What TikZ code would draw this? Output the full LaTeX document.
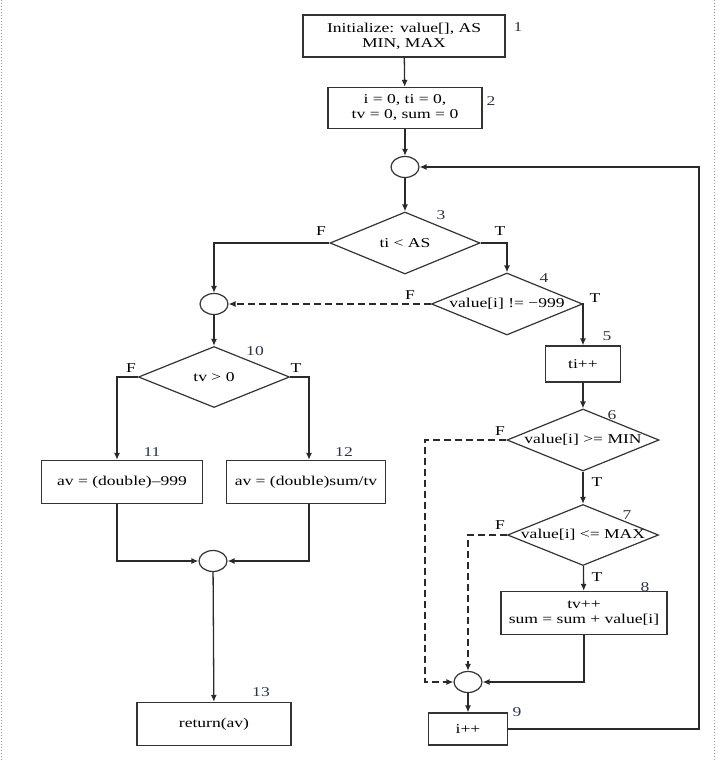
\documentclass[tikz,border=0pt]{standalone}
\usepackage{fontspec}
\setmainfont{Liberation Serif}[FakeStretch=1.3]
\usepackage{tikz}
\usetikzlibrary{arrows.meta,shapes.geometric}
\definecolor{inkline}{HTML}{2A2A2A}
\definecolor{boxline}{HTML}{333333}
\definecolor{stepnum}{HTML}{2B3448}
\definecolor{pageedge}{HTML}{9A9A9A}

\begin{document}
\begin{tikzpicture}[x=1pt, y=-1pt,
  font=\fontsize{13.5}{15}\selectfont,
  pbox/.style={rectangle, draw=boxline, line width=1.2pt, inner sep=0pt, align=center},
  dbox/.style={diamond, draw=boxline, line width=1.2pt, inner sep=0pt},
  jnode/.style={ellipse, draw=boxline, line width=1.2pt, minimum width=28pt, minimum height=21pt, inner sep=0pt},
  flow/.style={draw=inkline, line width=1.3pt, -{Latex[length=7pt,width=6pt]}},
  dflow/.style={flow, dash pattern=on 7pt off 4pt},
  num/.style={font=\fontsize{13.5}{15}\selectfont\color{stepnum}},
  tf/.style={font=\fontsize{13.5}{15}\selectfont},
]
\useasboundingbox (0,0) rectangle (718,760);
\draw[pageedge, dotted, line width=1pt] (1.5,0) -- (1.5,760);
\draw[pageedge, dotted, line width=1pt] (714,0) -- (714,760);

% start
\node[pbox, minimum width=202pt, minimum height=42pt] (init) at (404,36) {Initialize: value[], AS\\MIN, MAX};
\node[num] (n1) at (518,27) {1};
\node[pbox, minimum width=154pt, minimum height=41pt] (reset) at (405,108) {i = 0, ti = 0,\\tv = 0, sum = 0};
\node[num] (n2) at (491,101) {2};
\node[jnode] (j1) at (405,167) {};

% loop test
\node[dbox, minimum width=150pt, minimum height=62pt, label=center:{ti < AS}] (d3) at (405,243) {};
\node[num] (n3) at (441,215) {3};
\node[tf] (f3) at (321,231) {F};
\node[tf] (t3) at (500,231) {T};
\node[dbox, minimum width=151pt, minimum height=62pt, label=center:{value[i] != −999}] (d4) at (507,304) {};
\node[num] (n4) at (544,278) {4};
\node[tf] (f4) at (410,295) {F};
\node[tf] (t4) at (595,298) {T};
\node[jnode] (j2) at (214,304) {};

% average
\node[dbox, minimum width=151pt, minimum height=61pt, label=center:{tv > 0}] (d10) at (214,377) {};
\node[num] (n10) at (255,351) {10};
\node[tf] (f10) at (131,368) {F};
\node[tf] (t10) at (296,368) {T};
\node[pbox, minimum width=161pt, minimum height=43pt] (b11) at (122,482) {av = (double)–999};
\node[num] (n11) at (152,452) {11};
\node[pbox, minimum width=159pt, minimum height=43pt] (b12) at (306,482) {av = (double)sum/tv};
\node[num] (n12) at (344,452) {12};
\node[jnode] (j4) at (213,561) {};
\node[pbox, minimum width=154pt, minimum height=43pt] (b13) at (214,724) {return(av)};
\node[num] (n13) at (261,692) {13};

% loop body
\node[pbox, minimum width=75pt, minimum height=36pt] (b5) at (583,364) {ti++};
\node[num] (n5) at (607,336) {5};
\node[dbox, minimum width=152pt, minimum height=62pt, label=center:{value[i] >= MIN}] (d6) at (583,440) {};
\node[num] (n6) at (612,415) {6};
\node[tf] (f6) at (500,431) {F};
\node[tf] (t6) at (597,482) {T};
\node[dbox, minimum width=151pt, minimum height=61pt, label=center:{value[i] <= MAX}] (d7) at (583,535) {};
\node[num] (n7) at (627,515) {7};
\node[tf] (f7) at (500,525) {F};
\node[tf] (t7) at (597,577) {T};
\node[pbox, minimum width=166pt, minimum height=43pt] (b8) at (584,613) {tv++\\sum = sum + value[i]};
\node[num] (n8) at (645,587) {8};
\node[jnode] (j3) at (468,682) {};
\node[pbox, minimum width=79pt, minimum height=32pt] (b9) at (468,729) {i++};
\node[num] (n9) at (517,712) {9};
\coordinate (lane6) at (425,682);
\coordinate (back) at (699,450);

% connectors
\draw[flow] (init) -- (reset);
\draw[flow] (reset) -- (j1);
\draw[flow] (j1) -- (d3);
\draw[flow] (d3.west) -| (j2);
\draw[flow] (d3.east) -| (d4);
\draw[dflow] (d4.west) -- (j2);
\draw[flow] (d4.east) -| (b5);
\draw[flow] (j2) -- (d10);
\draw[flow] (d10.west) -| ([xshift=-5pt]b11.north);
\draw[flow] (d10.east) -| ([xshift=3pt]b12.north);
\draw[flow] ([xshift=-5pt]b11.south) |- (j4);
\draw[flow] ([xshift=3pt]b12.south) |- (j4);
\draw[flow] (j4) -- (b13);
\draw[flow] (b5) -- (d6);
\draw[dflow] (d6.west) -| (lane6) -- (j3);
\draw[dflow] (d7.west) -| (j3);
\draw[flow] (d6) -- (d7);
\draw[flow] (d7) -- (b8);
\draw[flow] (b8.south) |- (j3);
\draw[flow] (j3) -- (b9);
\draw[flow] (b9.east) -| (back) |- (j1);
\end{tikzpicture}
\end{document}
